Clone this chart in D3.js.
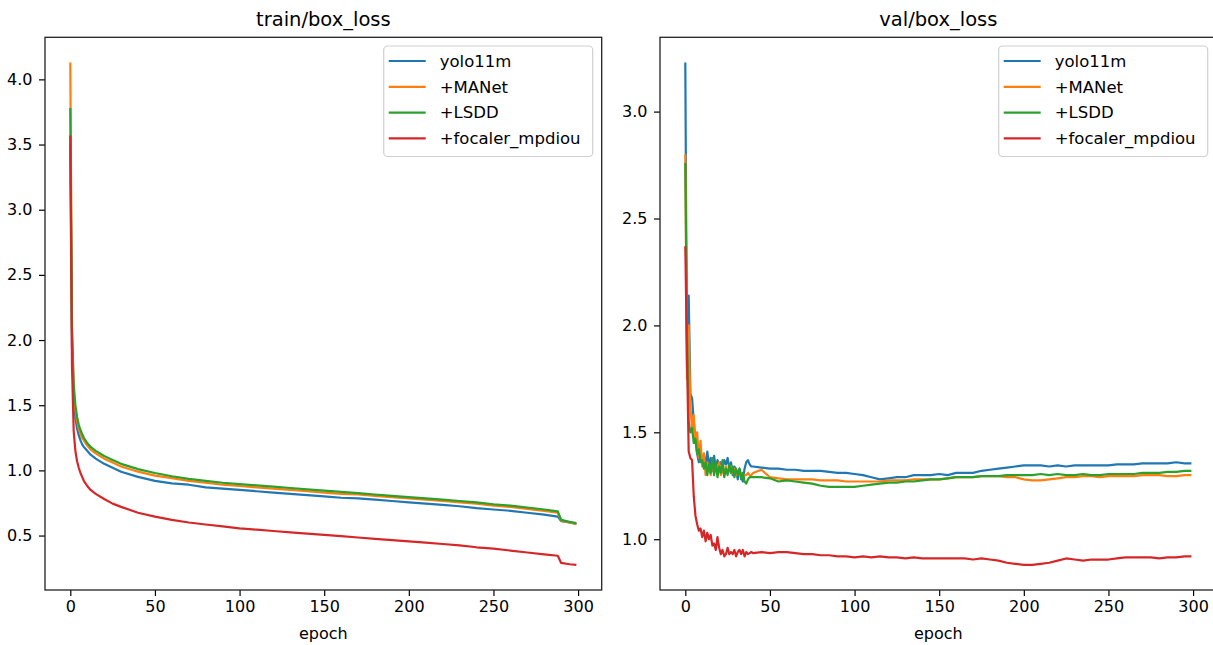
<!DOCTYPE html>
<html>
<head>
<meta charset="utf-8">
<script src="https://cdn.jsdelivr.net/npm/d3@7"></script>
<style>
  body { margin: 0; background: #fff; }
  text { font-family: "DejaVu Sans", sans-serif; fill: #000; }
</style>
</head>
<body>
<div id="chart"></div>
<script>
// series names and colours
const seriesNames = ["yolo11m", "+MANet", "+LSDD", "+focaler_mpdiou"];
const seriesColors = ["#1f77b4", "#ff7f0e", "#2ca02c", "#d62728"];

// train/box_loss
const trainEpochs = [0,1,2,3,4,5,6,7,8,10,12,15,20,25,30,40,50,60,70,80,90,100,110,120,130,140,150,160,170,180,190,200,210,220,230,240,250,260,270,280,288,290,295,299];
const trainYolo = [3.50,1.95,1.55,1.40,1.32,1.27,1.23,1.20,1.18,1.15,1.12,1.09,1.05,1.02,0.99,0.95,0.92,0.90,0.89,0.87,0.86,0.85,0.84,0.83,0.82,0.81,0.80,0.79,0.785,0.775,0.765,0.755,0.745,0.735,0.725,0.71,0.70,0.69,0.675,0.66,0.645,0.61,0.60,0.59];
const trainManet = [4.13,2.05,1.62,1.46,1.38,1.32,1.28,1.25,1.23,1.19,1.16,1.13,1.09,1.06,1.03,0.99,0.96,0.94,0.92,0.905,0.89,0.88,0.87,0.86,0.85,0.84,0.83,0.82,0.815,0.805,0.795,0.785,0.775,0.765,0.755,0.745,0.73,0.72,0.705,0.69,0.675,0.615,0.60,0.59];
const trainLsdd = [3.78,2.10,1.66,1.50,1.41,1.35,1.31,1.28,1.25,1.21,1.18,1.15,1.11,1.08,1.05,1.01,0.98,0.955,0.935,0.92,0.905,0.895,0.885,0.875,0.865,0.855,0.845,0.835,0.825,0.815,0.805,0.795,0.785,0.775,0.765,0.755,0.74,0.73,0.715,0.70,0.685,0.62,0.605,0.595];
const trainFocaler = [3.57,1.80,1.30,1.15,1.07,1.02,0.98,0.95,0.92,0.88,0.85,0.82,0.78,0.745,0.72,0.675,0.645,0.62,0.60,0.585,0.57,0.555,0.545,0.535,0.525,0.515,0.505,0.495,0.485,0.475,0.465,0.455,0.445,0.435,0.425,0.41,0.40,0.385,0.37,0.355,0.345,0.29,0.28,0.275];

// val/box_loss
const valEpochs = [0,1,2,3,4,5,6,7,8,9,10,11,12,13,14,15,16,17,18,19,20,21,22,23,24,25,26,27,28,29,30,31,32,33,34,35,36,37,38,39,40,
  45,50,55,60,65,70,75,80,85,90,95,100,105,110,115,120,125,130,135,140,145,150,155,160,165,170,175,180,185,190,195,200,205,210,215,220,225,230,235,240,245,250,255,260,265,270,275,280,285,290,295,299];
const valYolo = [3.23,1.80,2.14,1.68,1.66,1.55,1.46,1.40,1.36,1.41,1.35,1.40,1.33,1.41,1.34,1.38,1.32,1.39,1.33,1.37,1.35,1.36,1.33,1.37,1.35,1.38,1.33,1.36,1.30,1.34,1.32,1.28,1.33,1.30,1.27,1.33,1.36,1.37,1.35,1.34,1.34,
  1.335,1.33,1.33,1.325,1.325,1.32,1.32,1.32,1.315,1.31,1.31,1.305,1.30,1.29,1.28,1.285,1.29,1.29,1.30,1.30,1.30,1.305,1.30,1.31,1.31,1.31,1.32,1.325,1.33,1.335,1.34,1.345,1.345,1.345,1.34,1.345,1.34,1.345,1.345,1.345,1.345,1.345,1.35,1.35,1.35,1.355,1.355,1.355,1.355,1.36,1.355,1.355];
const valManet = [2.80,1.75,2.00,1.62,1.52,1.58,1.45,1.50,1.38,1.46,1.34,1.40,1.30,1.36,1.34,1.30,1.35,1.31,1.34,1.32,1.36,1.30,1.33,1.30,1.34,1.31,1.32,1.34,1.31,1.33,1.30,1.32,1.30,1.31,1.30,1.30,1.30,1.31,1.30,1.30,1.31,
  1.325,1.29,1.285,1.28,1.28,1.28,1.28,1.275,1.275,1.275,1.27,1.27,1.27,1.27,1.27,1.275,1.275,1.275,1.28,1.28,1.28,1.28,1.285,1.29,1.29,1.29,1.295,1.295,1.295,1.29,1.29,1.28,1.275,1.275,1.28,1.285,1.29,1.29,1.295,1.295,1.29,1.295,1.295,1.295,1.295,1.30,1.30,1.30,1.295,1.295,1.30,1.30];
const valLsdd = [2.76,1.95,1.55,1.50,1.52,1.45,1.47,1.40,1.42,1.36,1.37,1.33,1.36,1.30,1.35,1.31,1.38,1.30,1.36,1.29,1.34,1.31,1.37,1.29,1.33,1.30,1.35,1.31,1.34,1.29,1.33,1.30,1.33,1.28,1.31,1.27,1.26,1.28,1.29,1.29,1.29,
  1.29,1.285,1.27,1.275,1.27,1.265,1.26,1.25,1.245,1.245,1.245,1.245,1.25,1.255,1.26,1.265,1.265,1.27,1.27,1.275,1.28,1.28,1.285,1.29,1.29,1.29,1.295,1.295,1.295,1.30,1.30,1.30,1.30,1.305,1.30,1.305,1.30,1.30,1.305,1.30,1.30,1.305,1.305,1.305,1.305,1.31,1.31,1.31,1.315,1.315,1.32,1.32];
const valFocaler = [2.37,1.85,1.41,1.38,1.37,1.20,1.11,1.07,1.04,1.05,1.01,1.04,0.99,1.03,1.00,1.02,0.97,0.98,0.95,1.01,0.96,0.93,0.95,0.92,0.93,0.96,0.93,0.94,0.93,0.95,0.92,0.94,0.95,0.93,0.95,0.92,0.94,0.93,0.935,0.94,0.935,
  0.94,0.935,0.94,0.94,0.935,0.93,0.93,0.925,0.925,0.92,0.92,0.915,0.92,0.915,0.92,0.915,0.915,0.91,0.915,0.91,0.91,0.91,0.91,0.91,0.91,0.905,0.91,0.905,0.90,0.89,0.885,0.88,0.88,0.885,0.89,0.90,0.91,0.905,0.90,0.905,0.905,0.905,0.91,0.915,0.915,0.915,0.915,0.91,0.915,0.915,0.92,0.92];

const xTicks = [0, 50, 100, 150, 200, 250, 300];

const width = 1213, height = 645;
const svg = d3.select("#chart").append("svg")
  .attr("width", width)
  .attr("height", height);

function drawPanel(title, epochs, series, yTicks, left) {
  const top = 37.3, bottom = 590, w = 556.7;
  const right = left + w;

  // matplotlib style 5% margins
  const xExt = d3.extent(epochs);
  const xPad = (xExt[1] - xExt[0]) * 0.05;
  const all = series.flat();
  const yExt = d3.extent(all);
  const yPad = (yExt[1] - yExt[0]) * 0.05;

  const x = d3.scaleLinear().domain([xExt[0] - xPad, xExt[1] + xPad]).range([left, right]);
  const y = d3.scaleLinear().domain([yExt[0] - yPad, yExt[1] + yPad]).range([bottom, top]);

  const g = svg.append("g");

  const line = d3.line().x(d => x(d[0])).y(d => y(d[1]));
  series.forEach((vals, i) => {
    g.append("path")
      .datum(epochs.map((e, j) => [e, vals[j]]))
      .attr("fill", "none")
      .attr("stroke", seriesColors[i])
      .attr("stroke-width", 2.2)
      .attr("stroke-linejoin", "round")
      .attr("d", line);
  });

  g.append("g")
    .attr("transform", `translate(0,${bottom})`)
    .call(d3.axisBottom(x).tickValues(xTicks).tickSize(6).tickPadding(5).tickFormat(d3.format("d")))
    .call(a => a.select(".domain").remove())
    .call(a => a.selectAll("line").attr("stroke", "#000").attr("stroke-width", 1.2))
    .call(a => a.selectAll("text").attr("font-size", 16).attr("font-family", "DejaVu Sans"));

  g.append("g")
    .attr("transform", `translate(${left},0)`)
    .call(d3.axisLeft(y).tickValues(yTicks).tickSize(6).tickPadding(6.5).tickFormat(d3.format(".1f")))
    .call(a => a.select(".domain").remove())
    .call(a => a.selectAll("line").attr("stroke", "#000").attr("stroke-width", 1.2))
    .call(a => a.selectAll("text").attr("font-size", 16).attr("font-family", "DejaVu Sans"));

  g.append("rect")
    .attr("x", left).attr("y", top)
    .attr("width", w).attr("height", bottom - top)
    .attr("fill", "none")
    .attr("stroke", "#222")
    .attr("stroke-width", 1.3);

  g.append("text")
    .attr("x", left + w / 2).attr("y", 26)
    .attr("text-anchor", "middle")
    .attr("font-size", 19.5)
    .text(title);

  g.append("text")
    .attr("x", left + w / 2).attr("y", 639)
    .attr("text-anchor", "middle")
    .attr("font-size", 16)
    .text("epoch");

  // legend
  const bw = 209, bh = 110.5;
  const bx = right - 9 - bw, by = top + 8.7;
  const lg = g.append("g");
  lg.append("rect")
    .attr("x", bx).attr("y", by)
    .attr("width", bw).attr("height", bh)
    .attr("rx", 4)
    .attr("fill", "#fff").attr("fill-opacity", 0.8)
    .attr("stroke", "#d0d0d0").attr("stroke-width", 1.2);
  seriesNames.forEach((name, i) => {
    const ly = by + 15 + i * 25.8;
    lg.append("line")
      .attr("x1", bx + 5).attr("x2", bx + 42)
      .attr("y1", ly).attr("y2", ly)
      .attr("stroke", seriesColors[i]).attr("stroke-width", 2.2);
    lg.append("text")
      .attr("x", bx + 56).attr("y", ly)
      .attr("dy", "0.35em")
      .attr("font-size", 16.5)
      .text(name);
  });
}

drawPanel("train/box_loss", trainEpochs, [trainYolo, trainManet, trainLsdd, trainFocaler], [0.5, 1.0, 1.5, 2.0, 2.5, 3.0, 3.5, 4.0], 45);
drawPanel("val/box_loss", valEpochs, [valYolo, valManet, valLsdd, valFocaler], [1.0, 1.5, 2.0, 2.5, 3.0], 660);
</script>
</body>
</html>
